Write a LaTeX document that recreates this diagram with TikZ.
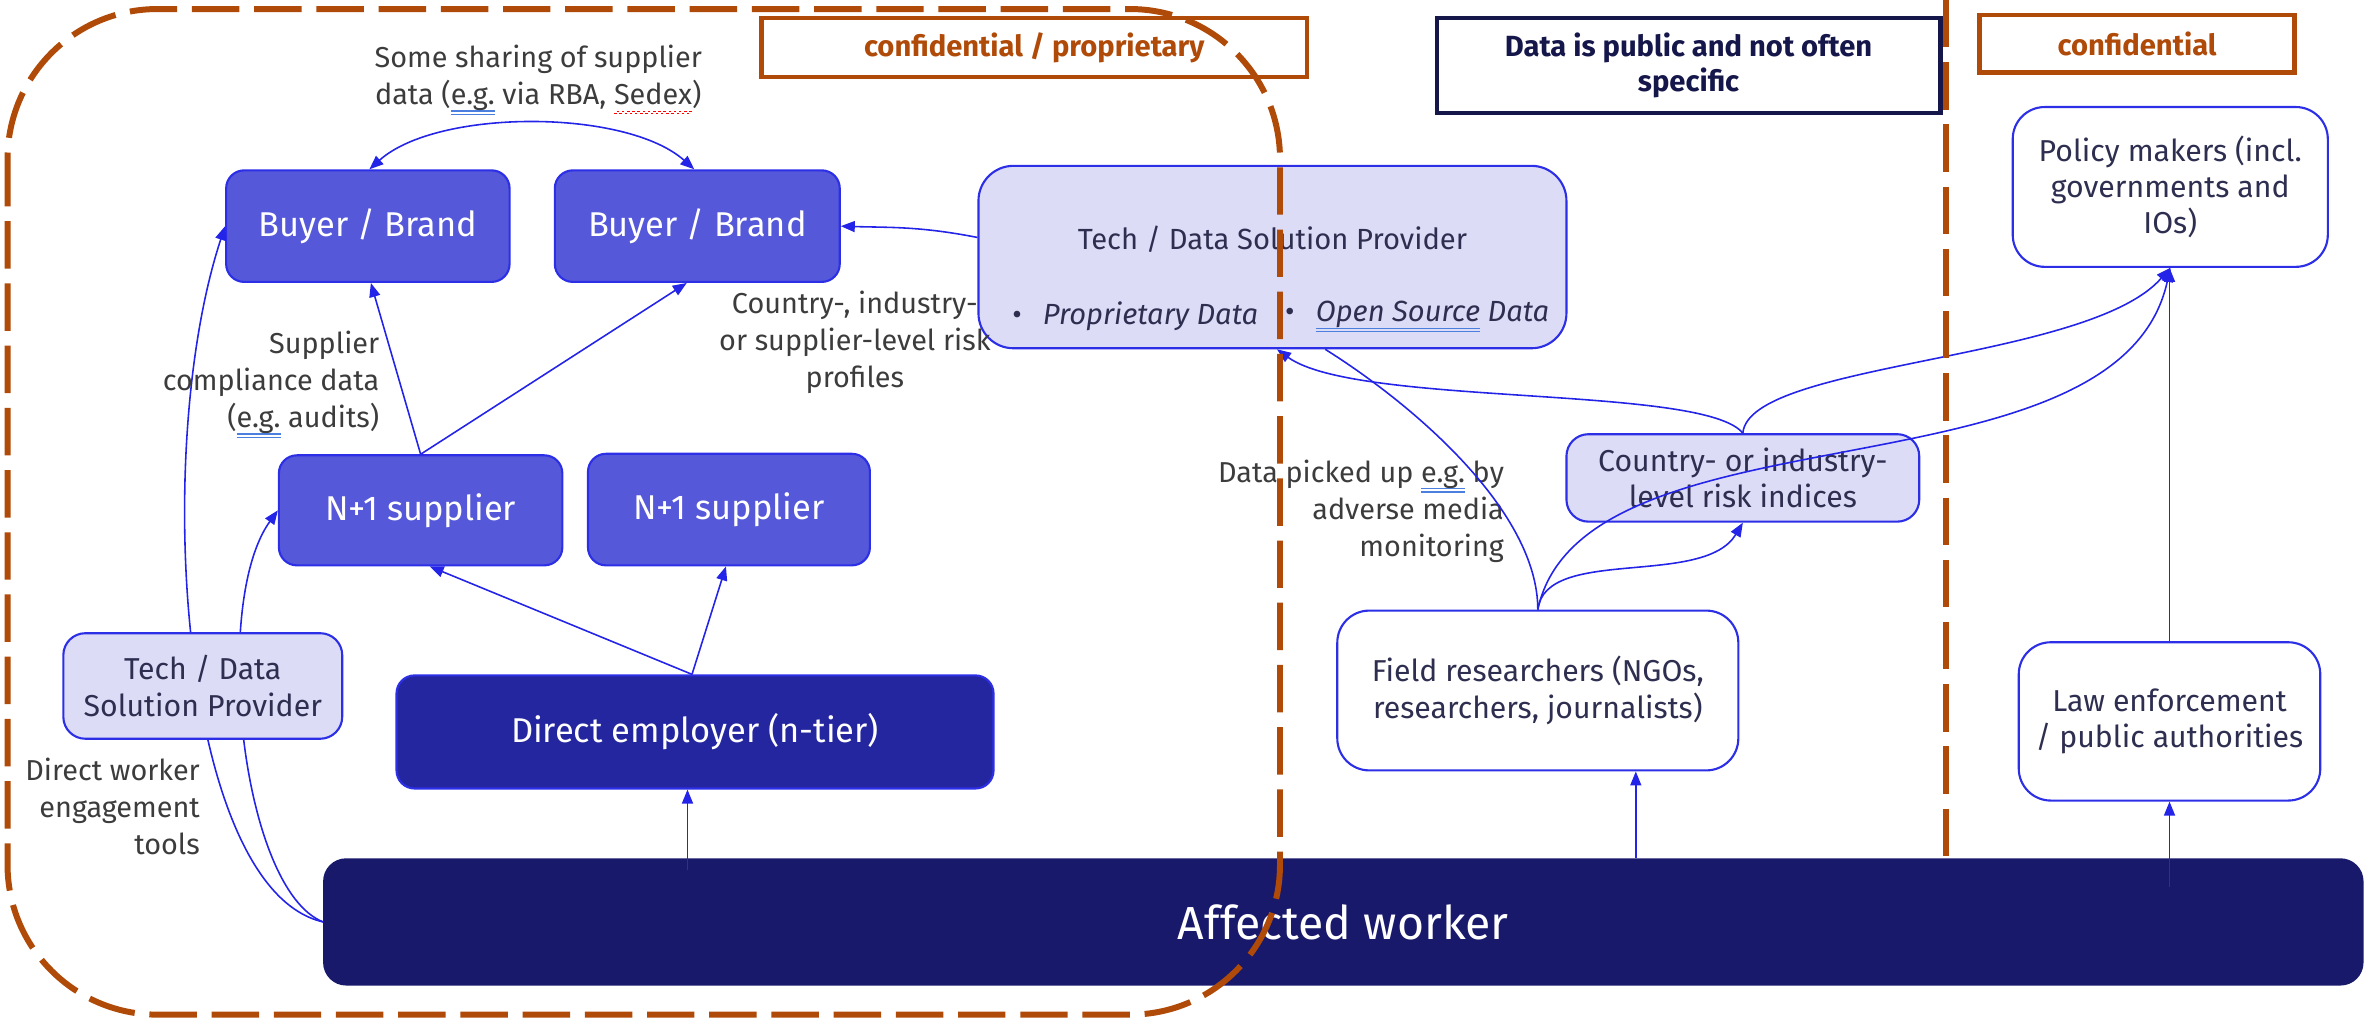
\documentclass[tikz,border=0pt]{standalone}
\usepackage{fontspec}
\setmainfont{Fira Sans}
\usetikzlibrary{arrows.meta,calc}
\definecolor{orng}{HTML}{B04A08}
\definecolor{navyt}{HTML}{15164A}
\definecolor{midblue}{HTML}{5558D9}
\definecolor{bordblue}{HTML}{2C2FE6}
\definecolor{conblue}{HTML}{2424E8}
\definecolor{lavender}{HTML}{DCDCF6}
\definecolor{deblue}{HTML}{2426A0}
\definecolor{awblue}{HTML}{18196B}
\definecolor{lbltext}{HTML}{3C3C3C}
\definecolor{boxtext}{HTML}{2E2E50}
\definecolor{ulblue}{HTML}{4A7FE0}
\newcommand\pxu{0.15077mm}
\newcommand\gram[1]{\setbox0\hbox{#1}\rlap{\color{ulblue}\rule[-2.0pt]{\wd0}{0.3pt}}\rlap{\color{ulblue}\rule[-2.9pt]{\wd0}{0.3pt}}\box0\relax}
\newcommand\spell[1]{\setbox0\hbox{#1}\rlap{\color{red}\hbox to\wd0{\xleaders\hbox to 1.4pt{\rule[-2.8pt]{0.7pt}{0.35pt}\rule[-2.2pt]{0.7pt}{0.35pt}}\hfil}}\box0\relax}
\begin{document}
\begin{tikzpicture}[x=0.15077mm,y=-0.15077mm,
  sz/.style 2 args={minimum width=#1*\pxu, minimum height=#2*\pxu},
  basebox/.style={draw=bordblue, line width=0.6pt, inner sep=0pt, align=center},
  darkbox/.style={basebox, fill=midblue, text=white, rounded corners=1.8mm, font=\fontsize{9.8}{11.5}\selectfont},
  lightbox/.style={basebox, fill=lavender, text=boxtext, rounded corners=2.2mm, font=\fontsize{8.6}{10.3}\selectfont},
  whitebox/.style={lightbox, fill=white, rounded corners=3.2mm},
  lbl/.style={text=lbltext, inner sep=0pt, font=\fontsize{8.2}{10.5}\selectfont},
  intext/.style={text=boxtext, inner sep=0pt, font=\fontsize{8.3}{10.3}\selectfont},
  titlebox/.style={inner sep=0pt, line width=1.3pt, align=center, font=\bfseries\fontsize{8.3}{10}\selectfont},
  arr/.style={draw=conblue, line width=0.45pt, -{Triangle[length=1.4mm,width=1.1mm]}},
  plain/.style={draw=conblue, line width=0.45pt},
  dashline/.style={draw=orng, line width=1.7pt, dash pattern=on 13.5pt off 4.2pt}
]
\useasboundingbox (0,0) rectangle (1568,679);

% main nodes
\node[darkbox, sz={188}{74}] (b1) at (244,150) {Buyer / Brand};
\node[darkbox, sz={189}{74}] (b2) at (462.5,150) {Buyer / Brand};
\node[darkbox, sz={188}{73}] (n1) at (279,338.5) {N+1 supplier};
\node[darkbox, sz={187}{74}] (n2) at (483.5,338) {N+1 supplier};
\node[darkbox, fill=deblue, sz={396}{75}] (de) at (461,485.5) {Direct employer (n-tier)};
\node[basebox, draw=awblue, fill=awblue, text=white, rounded corners=2.2mm, sz={1352}{83}, font=\fontsize{13.2}{15}\selectfont] (aw) at (891,611.5) {Affected worker};

% connectors hidden behind the small tech box
\draw[arr] (aw.west) .. controls (120,590) and (100,300) .. (b1.west);
\draw[arr] (aw.west) .. controls (160,590) and (140,400) .. (n1.west);

\node[lightbox, sz={185}{70}] (techs) at (134.5,455) {Tech / Data\\Solution Provider};

\node[lightbox, sz={390}{121}, rounded corners=3.5mm] (tech) at (844,170.5) {};
\node[intext] (techt) at (844,159) {Tech / Data Solution Provider};
\node[intext, anchor=west] (techp) at (671,210) {\textbullet\hspace{6pt}\textit{Proprietary Data}};
\node[intext, anchor=west] (techo) at (852,210) {\textbullet\hspace{6pt}\textit{\gram{Open Source} Data}};

\node[lightbox, sz={234}{58}] (cri) at (1156,317) {Country- or industry-\\level risk indices};
\node[whitebox, sz={266}{106}] (fr) at (1020,458) {Field researchers (NGOs,\\researchers, journalists)};
\node[whitebox, sz={209}{106}] (pm) at (1439.5,124) {Policy makers (incl.\\governments and\\IOs)};
\node[whitebox, sz={200}{105}] (le) at (1439,478.5) {Law enforcement\\/ public authorities};

% title boxes
\node[titlebox, draw=orng, text=orng, sz={362}{39}] (conf1) at (686,31.5) {confidential / proprietary};
\node[titlebox, draw=navyt, text=navyt, sz={334}{63}] (pub) at (1120,43.5) {Data is public and not often\\specific};
\node[titlebox, draw=orng, text=orng, sz={209}{38}] (conf2) at (1417.5,29) {confidential};

% labels
\node[lbl, align=center] (lsh) at (357,53) {Some sharing of supplier\\data (\gram{e.g.} via RBA, \spell{Sedex})};
\node[lbl, align=right, anchor=east] (lsc) at (252,255) {Supplier\\compliance data\\(\gram{e.g.} audits)};
\node[lbl, align=center] (lcr) at (567,227) {Country-, industry-\\or supplier-level risk\\profiles};
\node[lbl, align=right, anchor=east] (ldw) at (133,535) {Direct worker\\engagement\\tools};
\node[lbl, align=right, anchor=east] (ldp) at (998,339) {Data picked up \gram{e.g.} by\\adverse media\\monitoring};

% connectors
\draw[arr, {Triangle[length=1.4mm,width=1.1mm]}-{Triangle[length=1.4mm,width=1.1mm]}]
  ($(b1.north)+(1,0)$) .. controls (290,72) and (415,72) .. ($(b2.north)+(-2,0)$);
\draw[arr] (n1.north) -- ($(b1.south)+(2,0)$);
\draw[arr] (n1.north) -- ($(b2.south)+(-7,0)$);
\draw[arr] ($(de.north)+(-2,0)$) -- ($(n1.south)+(6,0)$);
\draw[arr] ($(de.north)+(-2,0)$) -- ($(n2.south)+(-2,0)$);
\draw[arr] ($(aw.north -| de.south)+(-5,8)$) -- ($(de.south)+(-5,0)$);
\draw[arr] ($(tech.west)+(0,-13)$) .. controls (610,150) and (590,151) .. (b2.east);
\draw[arr] (cri.north) .. controls (1130,255) and (900,270) .. ($(tech.south)+(3,0)$);
\draw[plain] (fr.north) .. controls (1020,340) and (940,270) .. ($(tech.south)+(35,0)$);
\draw[arr] (fr.north) .. controls (1025,362) and (1130,390) .. (cri.south);
\draw[arr] (fr.north) .. controls (1050,265) and (1405,335) .. (pm.south);
\draw[arr] (cri.north) .. controls (1160,240) and (1385,240) .. (pm.south);
\draw[arr] (le.north) -- (le.north |- pm.south);
\coordinate (frin) at ($(fr.south)+(65,0)$);
\draw[arr] (aw.north -| frin) -- (frin);
\draw[arr] ($(aw.north -| le.south)+(0,19)$) -- (le.south);

% confidential region boundaries
\draw[dashline, rounded corners=15mm] (5,6) rectangle (849,673);
\draw[dashline] (1291,0) -- (1291,570);
\end{tikzpicture}
\end{document}
